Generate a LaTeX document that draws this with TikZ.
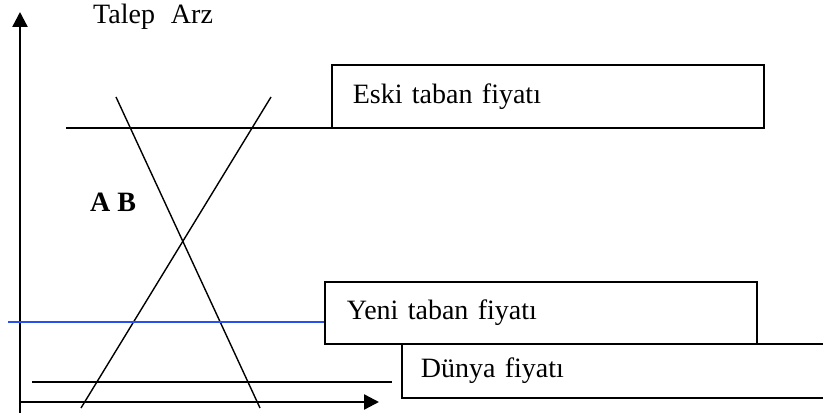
\documentclass[tikz,border=0pt]{standalone}
\usepackage{fontspec}
\setmainfont{Liberation Serif}
\usetikzlibrary{arrows.meta}
\begin{document}
\begin{tikzpicture}[x=1pt,y=-1pt,
  axis/.style={line width=2.4pt,-{Triangle[length=15pt,width=15pt]}},
  curve/.style={line width=1.4pt},
  pricebox/.style={draw,line width=1.7pt,anchor=north west,align=left,
    font=\fontsize{28}{34}\selectfont,inner ysep=0pt,fill=white},
  lbl/.style={anchor=base west,inner sep=0pt,font=\fontsize{28}{34}\selectfont}]
\useasboundingbox (0,0) rectangle (823,419);
\clip (0,0) rectangle (823,419);
\fill[white] (0,0) rectangle (823,419);

% axes
\coordinate (O) at (20,413);
\coordinate (ytop) at (20,12);
\coordinate (xo) at (20,402);
\coordinate (xend) at (379,402);
\draw[axis] (O) -- (ytop);
\draw[axis] (xo) -- (xend);

% demand and supply
\coordinate (d1) at (116,97);
\coordinate (d2) at (260,408);
\coordinate (s1) at (271,97);
\coordinate (s2) at (81,408);
\draw[curve] (d1) -- (d2);
\draw[curve] (s1) -- (s2);

% boxes
\node[pricebox,minimum height=54pt,inner xsep=19pt,text width=402pt] (dunya) at (401,343) {Dünya fiyatı};
\node[pricebox,minimum height=62pt,inner xsep=22pt,text width=388pt] (yeni) at (324,281) {Yeni taban fiyatı};
\node[pricebox,minimum height=63pt,inner xsep=21pt,text width=390pt] (eski) at (331,64) {Eski taban fiyatı};

% price lines
\coordinate (e1) at (66,128);
\coordinate (e2) at (402,128);
\draw[curve] (e1) -- (e2);
\coordinate (b1) at (8,322);
\draw[line width=1.4pt,color={rgb,255:red,40;green,80;blue,240}] (b1) -- (b1 -| yeni.west);
\coordinate (w1) at (32,382);
\coordinate (w2) at (392,382);
\draw[curve] (w1) -- (w2);

% labels
\node[lbl] (talep) at (93,24) {Talep\hspace{16pt}Arz};
\node[lbl,font=\fontsize{28}{34}\selectfont\bfseries] (ab) at (90,212) {A B};
\end{tikzpicture}
\end{document}
